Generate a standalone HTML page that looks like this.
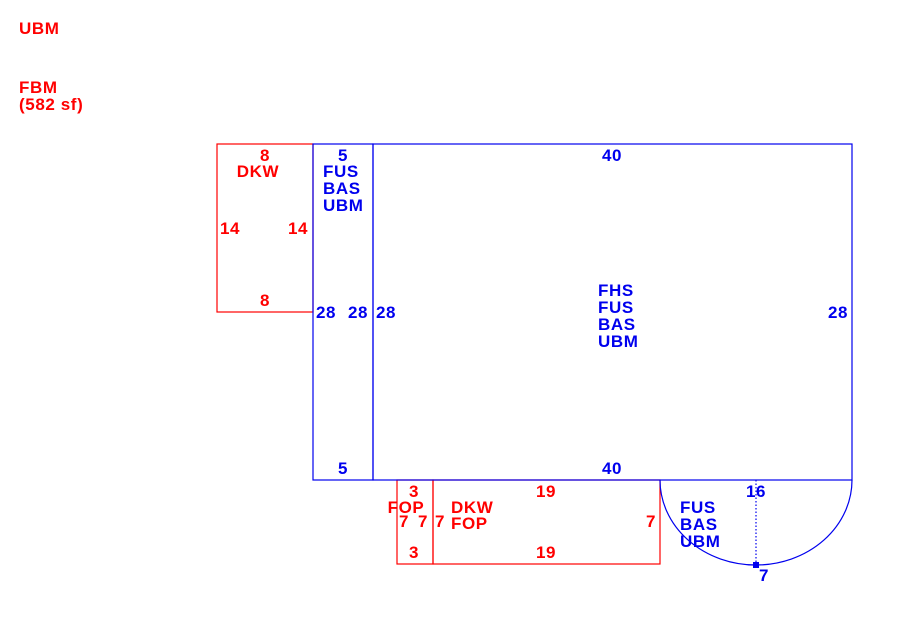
<!DOCTYPE html>
<html><head><meta charset="utf-8"><style>
body{margin:0;background:#fff}
svg text{font-family:"Liberation Sans",Arial,sans-serif;font-weight:bold;font-size:17px;letter-spacing:0.6px}
.r{fill:#ff0000}.b{fill:#0000ee}
</style></head><body>
<svg width="902" height="614" xmlns="http://www.w3.org/2000/svg">
<g fill="none" stroke-width="1.2">
<rect x="217" y="144" width="96" height="168" stroke="#ff0000"/>
<rect x="397" y="480" width="36" height="84" stroke="#ff0000"/>
<rect x="433" y="480" width="227" height="84" stroke="#ff0000"/>
<rect x="313" y="144" width="60" height="336" stroke="#0000ee"/>
<rect x="373" y="144" width="479" height="336" stroke="#0000ee"/>
<path d="M660 480 A96 85 0 0 0 852 480" stroke="#0000ee"/>
<line x1="756" y1="480" x2="756" y2="565" stroke="#0000ee" stroke-dasharray="1.5 2"/>
</g>
<rect x="753" y="562" width="6" height="6" fill="#0000ee"/>
<g class="r">
<text x="19" y="34">UBM</text>
<text x="19" y="93">FBM</text>
<text x="19" y="110">(582 sf)</text>
<text x="265" y="161" text-anchor="middle">8</text>
<text x="258" y="177" text-anchor="middle">DKW</text>
<text x="230" y="234" text-anchor="middle">14</text>
<text x="298" y="234" text-anchor="middle">14</text>
<text x="265" y="306" text-anchor="middle">8</text>
<text x="414" y="497" text-anchor="middle">3</text>
<text x="406" y="513" text-anchor="middle">FOP</text>
<text x="404" y="527" text-anchor="middle">7</text>
<text x="423" y="527" text-anchor="middle">7</text>
<text x="440" y="527" text-anchor="middle">7</text>
<text x="451" y="513">DKW</text>
<text x="451" y="529">FOP</text>
<text x="414" y="558" text-anchor="middle">3</text>
<text x="546" y="497" text-anchor="middle">19</text>
<text x="546" y="558" text-anchor="middle">19</text>
<text x="651" y="527" text-anchor="middle">7</text>
</g>
<g class="b">
<text x="343" y="161" text-anchor="middle">5</text>
<text x="323" y="177">FUS</text>
<text x="323" y="194">BAS</text>
<text x="323" y="211">UBM</text>
<text x="326" y="318" text-anchor="middle">28</text>
<text x="358" y="318" text-anchor="middle">28</text>
<text x="386" y="318" text-anchor="middle">28</text>
<text x="343" y="474" text-anchor="middle">5</text>
<text x="612" y="161" text-anchor="middle">40</text>
<text x="598" y="296">FHS</text>
<text x="598" y="313">FUS</text>
<text x="598" y="330">BAS</text>
<text x="598" y="347">UBM</text>
<text x="838" y="318" text-anchor="middle">28</text>
<text x="612" y="474" text-anchor="middle">40</text>
<text x="756" y="497" text-anchor="middle">16</text>
<text x="680" y="513">FUS</text>
<text x="680" y="530">BAS</text>
<text x="680" y="547">UBM</text>
<text x="764" y="581" text-anchor="middle">7</text>
</g>
</svg>
</body></html>
